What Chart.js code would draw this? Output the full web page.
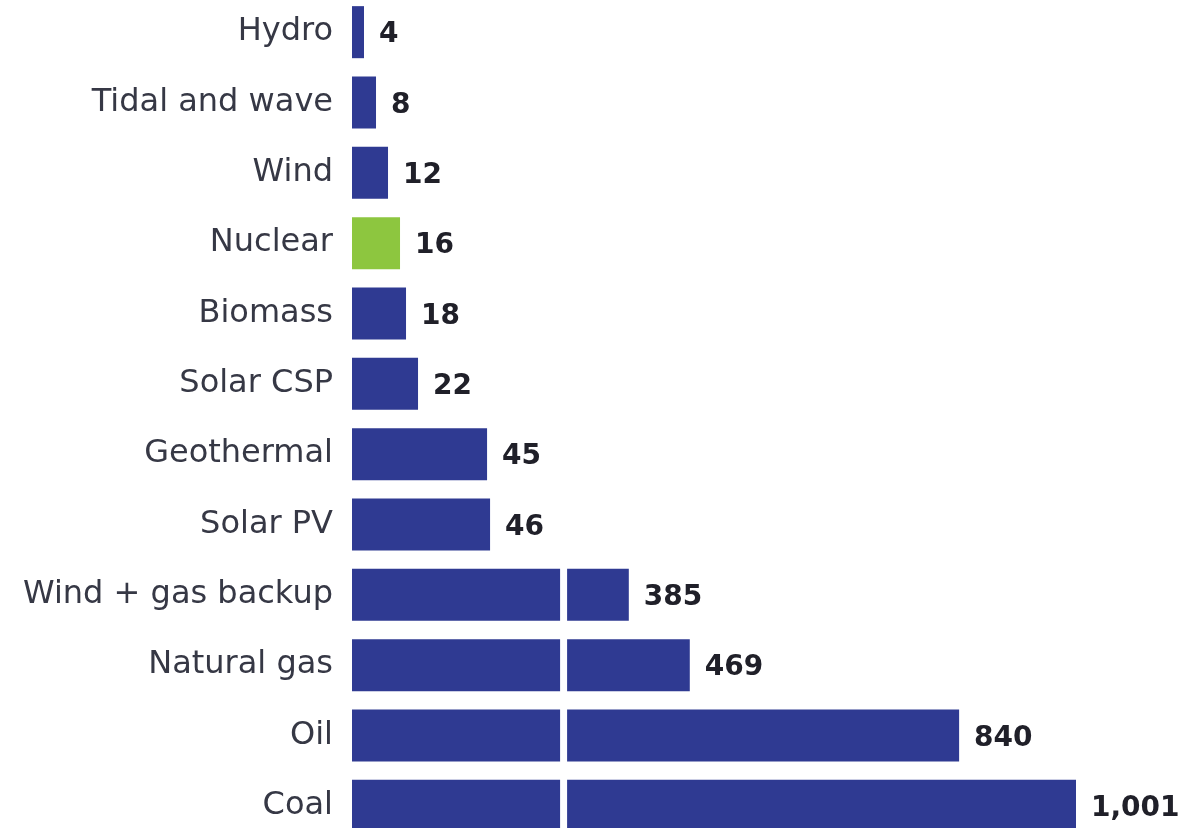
<!DOCTYPE html>
<html>
<head>
<meta charset="utf-8">
<script src="https://cdn.jsdelivr.net/npm/chart.js@4/dist/chart.umd.min.js"></script>
<style>
  html, body { margin: 0; padding: 0; background: #fff; overflow: hidden; width: 1204px; height: 828px; }
  #wrap { position: absolute; left: 0; top: -3px; width: 1204px; height: 844px; }
</style>
</head>
<body>
<div id="wrap"><canvas id="c"></canvas></div>
<script>
const categories = ["Hydro", "Tidal and wave", "Wind", "Nuclear", "Biomass", "Solar CSP",
  "Geothermal", "Solar PV", "Wind + gas backup", "Natural gas", "Oil", "Coal"];
const values = [4, 8, 12, 16, 18, 22, 45, 46, 385, 469, 840, 1001];
const highlight = ["Nuclear"];

// Broken axis: lower segment 0..breakLow, upper segment breakHigh..max
const breakLow = 69.33;
const breakHigh = 300;
const lowRate = 3.0;      // px per unit, lower segment
const highRate = 0.7256;  // px per unit, upper segment
const gapPx = 7;

function offsetFor(v) {
  if (v <= breakLow) return v * lowRate;
  if (v < breakHigh) return breakLow * lowRate;
  return breakLow * lowRate + gapPx + (v - breakHigh) * highRate;
}

const LinearScale = Chart.registry.getScale('linear');
class BrokenLinearScale extends LinearScale {
  getPixelForValue(value) {
    const total = offsetFor(this.max);
    return this.left + this.width * offsetFor(value) / total;
  }
}
BrokenLinearScale.id = 'brokenLinear';
BrokenLinearScale.defaults = LinearScale.defaults;
Chart.register(BrokenLinearScale);

const blue = '#2f3a92';
const green = '#8dc63f';

const breakPlugin = {
  id: 'breakGap',
  afterDatasetsDraw(chart) {
    const x = chart.scales.x;
    const ctx = chart.ctx;
    const a = x.getPixelForValue(breakLow);
    const b = a + (x.width / offsetFor(x.max)) * gapPx;
    ctx.save();
    ctx.fillStyle = '#ffffff';
    ctx.fillRect(a, chart.chartArea.top, b - a, chart.chartArea.bottom - chart.chartArea.top);
    ctx.restore();
  }
};

const labelPlugin = {
  id: 'valueLabels',
  afterDraw(chart) {
    const ctx = chart.ctx;
    const meta = chart.getDatasetMeta(0);
    ctx.save();
    ctx.font = 'bold 28px "DejaVu Sans"';
    ctx.fillStyle = '#202029';
    ctx.textAlign = 'left';
    ctx.textBaseline = 'middle';
    meta.data.forEach((bar, i) => {
      ctx.fillText(values[i].toLocaleString('en-US'), bar.x + 15, bar.y + 3);
    });
    ctx.restore();
  }
};

new Chart(document.getElementById('c'), {
  type: 'bar',
  data: {
    labels: categories,
    datasets: [{
      data: values,
      backgroundColor: categories.map(c => highlight.includes(c) ? green : blue),
      borderWidth: 0,
      barPercentage: 0.74,
      categoryPercentage: 1.0
    }]
  },
  options: {
    indexAxis: 'y',
    responsive: true,
    maintainAspectRatio: false,
    animation: false,
    layout: { padding: { left: 0, right: 128, top: 0, bottom: 0 } },
    plugins: { legend: { display: false }, tooltip: { enabled: false } },
    scales: {
      x: {
        type: 'brokenLinear',
        display: false,
        min: 0,
        max: 1001
      },
      y: {
        grid: { display: false, drawTicks: false },
        border: { display: false },
        ticks: {
          color: '#363845',
          autoSkip: false,
          font: { family: '"DejaVu Sans"', size: 32 },
          padding: 19
        },
        afterFit(scale) {
          scale.width = 352;
          scale.paddingTop = 0;
          scale.paddingBottom = 0;
        }
      }
    }
  },
  plugins: [breakPlugin, labelPlugin]
});
</script>
</body>
</html>
